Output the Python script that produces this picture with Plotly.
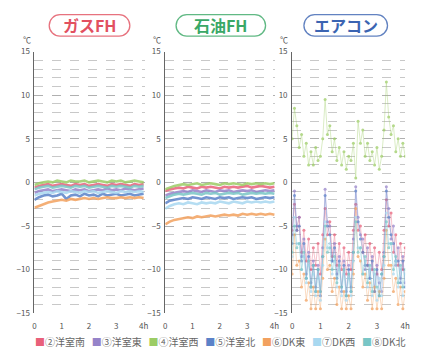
import plotly.graph_objects as go

W, H = 423, 357

# ---------------- data ----------------
panels = ["ガスFH", "石油FH", "エアコン"]
series = ["②洋室南", "③洋室東", "④洋室西", "⑤洋室北", "⑥DK東", "⑦DK西", "⑧DK北"]
colors = ["#e8607a", "#9683c9", "#9ccc65", "#5b82c8", "#f2a15f", "#a8d8f0", "#79c6c6"]

# sample times (minutes)
t10 = [0, 10, 20, 30, 40, 50, 60, 70, 80, 90, 100, 110, 120, 130, 140, 150, 160,
       170, 180, 190, 200, 210, 220, 230, 240]
t5 = [0, 5, 10, 15, 20, 25, 30, 35, 40, 45, 50, 55, 60, 65, 70, 75, 80, 85, 90, 95,
      100, 105, 110, 115, 120, 125, 130, 135, 140, 145, 150, 155, 160, 165, 170, 175,
      180, 185, 190, 195, 200, 205, 210, 215, 220, 225, 230, 235, 240]

gas = {
    "②洋室南": [-0.6, -0.4, -0.3, -0.2, -0.4, -0.3, -0.2, -0.3, -0.4, -0.2, -0.3, -0.2, -0.4,
              -0.3, -0.2, -0.3, -0.4, -0.2, -0.3, -0.2, -0.3, -0.4, -0.2, -0.3, -0.2],
    "③洋室東": [-1.2, -1.0, -0.9, -0.8, -1.0, -0.9, -0.8, -0.9, -1.0, -0.8, -0.9, -0.8, -1.0,
              -0.9, -0.8, -0.9, -0.7, -0.9, -0.8, -0.9, -0.7, -0.8, -0.9, -0.8, -0.7],
    "④洋室西": [-0.3, -0.1, 0.0, 0.1, 0.0, 0.2, 0.1, 0.0, 0.2, 0.1, 0.1, 0.2, 0.0,
              0.1, 0.2, 0.1, 0.0, 0.2, 0.1, 0.2, 0.0, 0.1, 0.2, 0.1, 0.0],
    "⑤洋室北": [-2.0, -1.7, -1.5, -1.4, -1.6, -1.5, -1.3, -1.9, -1.5, -1.4, -1.6, -1.3, -1.5,
              -1.4, -1.6, -1.3, -1.5, -1.4, -1.3, -1.5, -1.4, -1.3, -1.5, -1.4, -1.3],
    "⑥DK東": [-2.9, -2.7, -2.5, -2.3, -2.2, -2.1, -2.0, -2.1, -1.9, -2.0, -1.9, -1.8, -1.9,
              -1.8, -1.9, -1.8, -1.7, -1.8, -1.8, -1.7, -1.8, -1.7, -1.8, -1.7, -1.8],
    "⑦DK西": [-1.5, -1.3, -1.2, -1.1, -1.2, -1.0, -1.1, -1.2, -1.0, -1.1, -1.2, -1.0, -1.1,
              -1.0, -1.2, -1.1, -1.0, -1.1, -1.2, -1.0, -1.1, -1.0, -1.1, -1.0, -1.1],
    "⑧DK北": [-0.8, -0.6, -0.5, -0.4, -0.6, -0.5, -0.4, -0.5, -0.6, -0.4, -0.5, -0.4, -0.6,
              -0.5, -0.4, -0.5, -0.6, -0.4, -0.5, -0.4, -0.5, -0.6, -0.4, -0.5, -0.4],
}

oil = {
    "②洋室南": [-1.0, -0.8, -0.7, -0.6, -0.7, -0.5, -0.6, -0.7, -0.5, -0.6, -0.5, -0.6, -0.7,
              -0.5, -0.6, -0.5, -0.6, -0.5, -0.4, -0.6, -0.5, -0.4, -0.5, -0.6, -0.5],
    "③洋室東": [-1.5, -1.3, -1.2, -1.1, -1.0, -1.1, -0.9, -1.0, -1.1, -0.9, -1.0, -1.1, -0.9,
              -1.0, -0.9, -1.1, -1.0, -0.9, -1.0, -0.9, -1.1, -1.0, -0.9, -1.0, -0.9],
    "④洋室西": [-0.8, -0.6, -0.4, -0.3, -0.2, -0.3, -0.2, -0.1, -0.3, -0.2, -0.1, -0.2, -0.3,
              -0.1, -0.2, -0.1, -0.2, -0.3, -0.1, -0.2, -0.1, -0.2, -0.1, -0.2, -0.1],
    "⑤洋室北": [-2.4, -2.1, -2.0, -1.9, -1.8, -1.9, -1.7, -1.8, -1.9, -1.7, -1.8, -1.9, -1.7,
              -1.8, -1.7, -1.9, -1.8, -1.7, -1.8, -1.7, -1.9, -1.8, -1.7, -1.8, -1.7],
    "⑥DK東": [-4.8, -4.5, -4.3, -4.2, -4.1, -4.0, -4.1, -3.9, -4.0, -3.9, -3.8, -3.9, -3.8,
              -3.7, -3.8, -3.7, -3.8, -3.6, -3.7, -3.6, -3.7, -3.6, -3.7, -3.6, -3.7],
    "⑦DK西": [-3.0, -2.7, -2.5, -2.4, -2.5, -2.3, -2.4, -2.5, -2.3, -2.4, -2.3, -2.4, -2.2,
              -2.3, -2.4, -2.2, -2.3, -2.4, -2.2, -2.3, -2.2, -2.3, -2.2, -2.3, -2.2],
    "⑧DK北": [-1.8, -1.6, -1.4, -1.3, -1.4, -1.3, -1.2, -1.3, -1.4, -1.2, -1.3, -1.2, -1.4,
              -1.3, -1.2, -1.3, -1.2, -1.4, -1.3, -1.2, -1.3, -1.2, -1.3, -1.2, -1.3],
}

aircon = {
    "②洋室南": [-5.5, -2.5, -5.5, -4, -8, -5.5, -9, -6.5, -10, -7.5, -9.5, -7, -10.5, -6, -3,
              -6, -4.5, -8.5, -6, -9.5, -7, -10, -7.5, -10.5, -8, -10, -5.5, -2.5, -5.5, -5,
              -8, -6, -9.5, -7, -10, -7.5, -10.5, -8, -10, -5.5, -2, -5, -3.5, -8, -6, -9.5,
              -7, -10, -7.5],
    "③洋室東": [-6, -1.0, -5, -4, -8.5, -6.5, -10.5, -8, -11.5, -9, -12, -9.5, -12.5, -7.5,
              -0.8, -4.5, -5, -9, -7, -10.5, -8.5, -12, -9, -12.5, -9.5, -12, -6.5, -0.5, -4,
              -6, -6.5, -10, -7.5, -11, -8.5, -12.5, -9.5, -11.5, -12.5, -8, -0.5, -3, -6.5,
              -5, -9.5, -7.5, -11, -8.5, -11.5],
    "④洋室西": [5, 8.5, 6.5, 4, 5.5, 3, 4.5, 2, 3.5, 2, 4, 2.5, 3, 5, 9.5, 5.5, 6.5, 3.5, 5,
              2.5, 4, 2, 3.5, 1.5, 3, 2.5, 4.5, 0.5, 7, 4.5, 6, 3, 4.5, 2.5, 3.5, 2, 4, 1.5,
              3, 6, 11.5, 7.5, 5.5, 6.5, 3.5, 5, 3, 4.5, 3],
    "⑤洋室北": [-7, -1.5, -5.5, -5, -9, -7, -11, -8.5, -12, -9.5, -12.5, -10, -13, -8.5,
              -1.5, -5, -6, -9, -7.5, -11, -9, -12.5, -9.5, -13, -10, -12.5, -8, -1, -4.5,
              -6.5, -8, -9.5, -9.5, -11, -9, -12.5, -10, -13, -10.5, -8.5, -1, -4, -6,
              -7, -9, -9, -11.5, -9, -12],
    "⑥DK東": [-10.5, -6, -9.5, -9, -12, -10.5, -13.5, -11.5, -14.5, -12, -14.5, -12.5, -14.5,
              -11, -6.5, -10, -9.5, -12.5, -11, -14, -12, -14.5, -12.5, -14.5, -13, -14.5,
              -10.5, -3, -8.5, -9, -12, -10.5, -13.5, -11.5, -14.5, -12, -14.5, -12.5, -14.5,
              -11, -5.5, -9.5, -9.5, -12.5, -11, -14, -12, -14.5, -12.5],
    "⑦DK西": [-8.5, -4, -7, -7, -10, -8.5, -11.5, -9.5, -12.5, -10.5, -13, -11, -13.5, -9.5,
              -4.5, -7.5, -7, -10.5, -9, -12, -10, -13, -10.5, -13.5, -11, -13, -9, -4, -7.5,
              -7.5, -10.5, -9, -12, -10, -13, -10.5, -13.5, -11, -13, -9.5, -3.5, -7, -7,
              -10.5, -9, -12, -10, -13, -10.5],
    "⑧DK北": [-8, -5, -7.5, -7, -10, -8, -11, -9, -12, -9.5, -12.5, -10, -12.5, -8.5, -5,
              -8, -7.5, -10, -8.5, -11.5, -9.5, -12, -10, -13, -10.5, -12.5, -8, -4.5, -8,
              -7.5, -10.5, -8.5, -11.5, -9.5, -12.5, -10, -12, -13, -10.5, -8.5, -4.5, -7.5,
              -7, -10, -8.5, -11.5, -9.5, -12, -10],
}

y_ticks = [15, 10, 5, 0, -5, -10, -15]
x_ticks = [0, 1, 2, 3, 4]
x_ticktext = ["0", "1", "2", "3", "4h"]
title_colors = ["#e2505f", "#3aa866", "#3b64b2"]

# ---------------- layout helpers ----------------
FONT = "Noto Sans CJK JP, Noto Sans, sans-serif"
px = lambda x: x / W
py = lambda y: 1 - y / H

# pixel geometry of panels (x of t=0, x of t=4h, right end of grid)
panel_px = [(33, 144, 145), (166, 277, 278), (295, 410, 410)]
y_top, y_bot = 47, 317

fig = go.Figure()
datasets = [(gas, t10), (oil, t10), (aircon, t5)]

for p, (data, tt) in enumerate(datasets):
    xa = "x" if p == 0 else f"x{p+1}"
    ya = "y" if p == 0 else f"y{p+1}"
    for s, c in zip(series, colors):
        hours = [m / 60 for m in tt]
        if p < 2:
            fig.add_trace(go.Scatter(x=hours, y=data[s], mode="lines",
                                     line=dict(color=c, width=2.6), opacity=0.85,
                                     xaxis=xa, yaxis=ya, showlegend=False, name=s))
        else:
            fig.add_trace(go.Scatter(x=hours, y=data[s], mode="lines+markers",
                                     line=dict(color=c, width=0.5),
                                     marker=dict(color=c, size=3), opacity=0.75,
                                     xaxis=xa, yaxis=ya, showlegend=False, name=s))

layout = dict(width=W, height=H, margin=dict(l=0, r=0, t=0, b=0),
              paper_bgcolor="white", plot_bgcolor="white",
              font=dict(family=FONT, size=8, color="#555"), showlegend=False)

for p, (x0, x4, xe) in enumerate(panel_px):
    k = "" if p == 0 else str(p + 1)
    xmax = 4 * (xe - x0) / (x4 - x0)
    layout["xaxis" + k] = dict(domain=[px(x0), px(xe)], range=[0, xmax],
                               tickvals=x_ticks, ticktext=x_ticktext,
                               showgrid=False, zeroline=False, showline=False,
                               ticks="", ticklabelstandoff=7,
                               tickfont=dict(size=8, color="#555"),
                               anchor="y" + k)
    layout["yaxis" + k] = dict(domain=[py(y_bot), py(y_top)], range=[-15, 15],
                               tickvals=y_ticks, showgrid=True, gridcolor="#b0b0b0",
                               griddash="dash", gridwidth=0.8, zeroline=False,
                               showline=True, linecolor="#666", linewidth=1,
                               ticks="", ticklabelstandoff=2,
                               tickfont=dict(size=8, color="#555"),
                               minor=dict(dtick=1, tick0=0, showgrid=True,
                                          gridcolor="#c8c8c8", griddash="dash",
                                          gridwidth=0.7),
                               anchor="x" + k)

fig.update_layout(**layout)

# title pills
pills = [(48, 130), (177, 268), (307, 392)]
pt, pb = 9, 31


def pill_path(x0, y0, x1, y1):
    r = (y1 - y0) / 2
    k = 0.5523 * r
    pts = [
        f"M{px(x0 + r)},{py(y0)}",
        f"L{px(x1 - r)},{py(y0)}",
        f"C{px(x1 - r + k)},{py(y0)} {px(x1)},{py(y0 + r - k)} {px(x1)},{py(y0 + r)}",
        f"C{px(x1)},{py(y0 + r + k)} {px(x1 - r + k)},{py(y1)} {px(x1 - r)},{py(y1)}",
        f"L{px(x0 + r)},{py(y1)}",
        f"C{px(x0 + r - k)},{py(y1)} {px(x0)},{py(y1 - r + k)} {px(x0)},{py(y1 - r)}",
        f"C{px(x0)},{py(y0 + r - k)} {px(x0 + r - k)},{py(y0)} {px(x0 + r)},{py(y0)}",
        "Z",
    ]
    return " ".join(pts)


for (a, b), name, col in zip(pills, panels, title_colors):
    fig.add_shape(type="path", path=pill_path(a, pt, b, pb), xref="paper", yref="paper",
                  line=dict(color=col, width=1.3), fillcolor="white", opacity=0.8)
    fig.add_annotation(x=px((a + b) / 2), y=py((pt + pb) / 2), xref="paper",
                       yref="paper", xanchor="center", yanchor="middle",
                       text=f"<b>{name}</b>", showarrow=False,
                       font=dict(family=FONT, size=16, color=col))

# ℃ unit labels
for x0, _, _ in panel_px:
    fig.add_annotation(x=px(x0 - 8), y=py(35), xref="paper", yref="paper", text="℃",
                       xanchor="center", yanchor="middle",
                       showarrow=False, font=dict(size=8, color="#555"))

# legend as text
sep = "&nbsp;&nbsp;&nbsp;"
leg = sep.join(f"<span style='color:{c}'>■</span>{s}" for s, c in zip(series, colors))
fig.add_annotation(x=px(222), y=py(346), xref="paper", yref="paper", text=leg,
                   xanchor="center", yanchor="middle",
                   showarrow=False, font=dict(family=FONT, size=10, color="#666"))

fig.write_html("out.html", config={"displayModeBar": False},
               post_script="document.body.style.margin='0';")
